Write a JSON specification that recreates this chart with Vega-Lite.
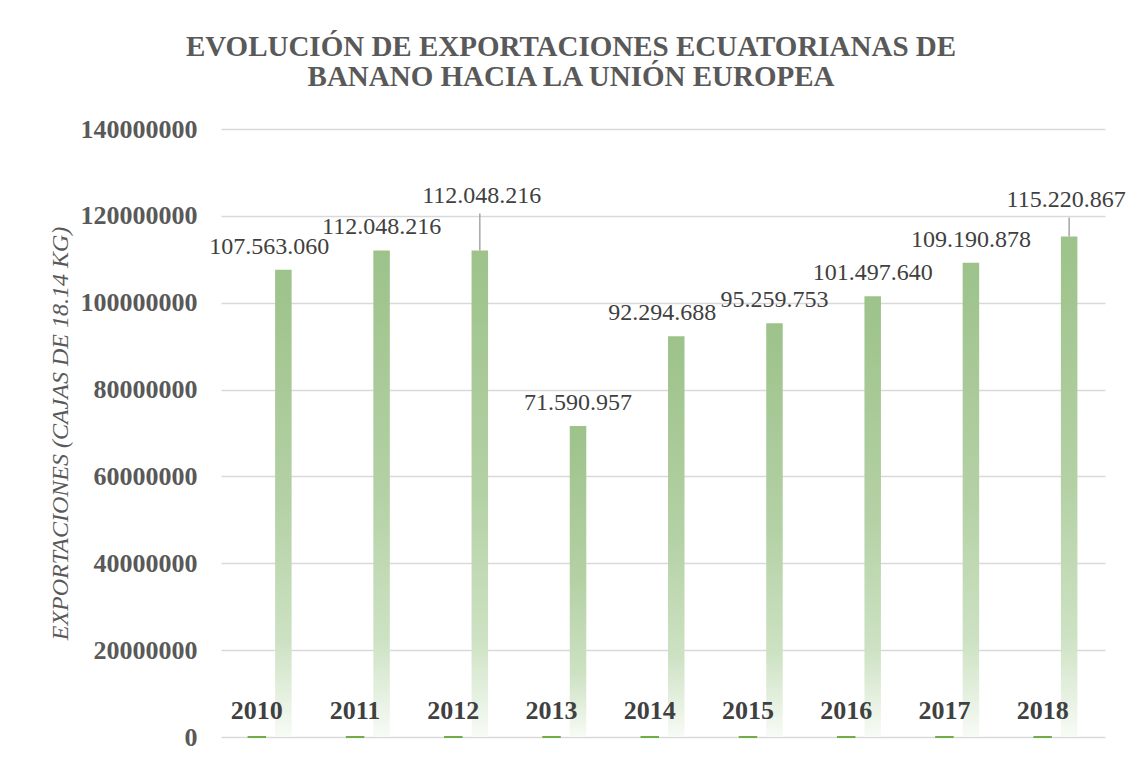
{
  "$schema": "https://vega.github.io/schema/vega-lite/v6.json",
  "autosize": {"type": "none"},
  "width": 884,
  "height": 608,
  "padding": {"left": 221, "top": 129, "right": 21, "bottom": 21},
  "background": "white",
  "title": {
    "text": ["EVOLUCIÓN DE EXPORTACIONES ECUATORIANAS DE", "BANANO HACIA LA UNIÓN EUROPEA"],
    "font": "Liberation Serif",
    "fontSize": 29,
    "fontWeight": "bold",
    "color": "#595959",
    "anchor": "middle",
    "frame": "group",
    "dx": -92,
    "lineHeight": 30,
    "offset": 24
  },
  "data": {
    "values": [
      {"anio": "2010", "serie": "Año", "valor": 2010},
      {"anio": "2010", "serie": "Exportaciones", "valor": 107563060},
      {"anio": "2011", "serie": "Año", "valor": 2011},
      {"anio": "2011", "serie": "Exportaciones", "valor": 112048216},
      {"anio": "2012", "serie": "Año", "valor": 2012},
      {"anio": "2012", "serie": "Exportaciones", "valor": 112048216},
      {"anio": "2013", "serie": "Año", "valor": 2013},
      {"anio": "2013", "serie": "Exportaciones", "valor": 71590957},
      {"anio": "2014", "serie": "Año", "valor": 2014},
      {"anio": "2014", "serie": "Exportaciones", "valor": 92294688},
      {"anio": "2015", "serie": "Año", "valor": 2015},
      {"anio": "2015", "serie": "Exportaciones", "valor": 95259753},
      {"anio": "2016", "serie": "Año", "valor": 2016},
      {"anio": "2016", "serie": "Exportaciones", "valor": 101497640},
      {"anio": "2017", "serie": "Año", "valor": 2017},
      {"anio": "2017", "serie": "Exportaciones", "valor": 109190878},
      {"anio": "2018", "serie": "Año", "valor": 2018},
      {"anio": "2018", "serie": "Exportaciones", "valor": 115220867}
    ]
  },
  "encoding": {
    "x": {"field": "anio", "type": "nominal", "axis": null, "sort": null,
      "scale": {"paddingInner": 0.562, "paddingOuter": 0.281}},
    "xOffset": {"field": "serie", "type": "nominal",
      "scale": {"domain": ["Año", "Exportaciones"], "paddingInner": 0.377, "paddingOuter": 0}},
    "y": {"field": "valor", "type": "quantitative",
      "scale": {"domain": [0, 140000000], "nice": false},
      "axis": {
        "values": [0, 20000000, 40000000, 60000000, 80000000, 100000000, 120000000, 140000000],
        "format": "d",
        "title": "EXPORTACIONES (CAJAS DE 18.14 KG)",
        "titleFont": "Liberation Serif",
        "titleFontSize": 24,
        "titleFontStyle": "italic",
        "titleFontWeight": "normal",
        "titleColor": "#595959",
        "titlePadding": 8,
        "labelFont": "Liberation Serif",
        "labelFontSize": 26,
        "labelFontWeight": "bold",
        "labelColor": "#595959",
        "labelPadding": 24,
        "domain": false,
        "ticks": false,
        "gridColor": "#d9d9d9",
        "gridWidth": 1.5
      }
    }
  },
  "layer": [
    {
      "transform": [{"filter": "datum.serie === 'Exportaciones'"}],
      "mark": {
        "type": "bar",
        "color": {
          "gradient": "linear", "x1": 0, "y1": 0, "x2": 0, "y2": 1,
          "stops": [
            {"offset": 0, "color": "#9dc28a"},
            {"offset": 0.5, "color": "#b4d1a5"},
            {"offset": 0.8, "color": "#cde2c3"},
            {"offset": 1, "color": "#f8fbf6"}
          ]
        }
      }
    },
    {
      "transform": [{"filter": "datum.serie === 'Año'"}],
      "mark": {"type": "bar", "color": "#70ad47", "stroke": "#70ad47", "strokeWidth": 2}
    },
    {
      "transform": [{"filter": "datum.serie === 'Año'"}],
      "mark": {"type": "text", "font": "Liberation Serif", "fontSize": 26, "fontWeight": "bold",
        "color": "#404040", "baseline": "alphabetic", "dy": -18},
      "encoding": {"text": {"field": "anio"}}
    },
    {
      "transform": [{"filter": {"field": "anio", "oneOf": ["2011", "2013", "2015", "2016", "2017"]}},
        {"filter": "datum.serie === 'Exportaciones'"}],
      "mark": {"type": "text", "font": "Liberation Serif", "fontSize": 24, "color": "#404040",
        "baseline": "alphabetic", "dy": -16},
      "encoding": {"text": {"field": "valor", "format": ",d", "formatType": "number"}}
    },
    {
      "transform": [{"filter": {"field": "anio", "oneOf": ["2010", "2014"]}},
        {"filter": "datum.serie === 'Exportaciones'"}],
      "mark": {"type": "text", "font": "Liberation Serif", "fontSize": 24, "color": "#404040",
        "baseline": "alphabetic", "dy": -16, "dx": -14},
      "encoding": {"text": {"field": "valor", "format": ",d", "formatType": "number"}}
    },
    {
      "transform": [{"filter": {"field": "anio", "oneOf": ["2012"]}},
        {"filter": "datum.serie === 'Exportaciones'"}],
      "mark": {"type": "text", "font": "Liberation Serif", "fontSize": 24, "color": "#404040",
        "baseline": "alphabetic", "dy": -47, "dx": 2},
      "encoding": {"text": {"field": "valor", "format": ",d", "formatType": "number"}}
    },
    {
      "transform": [{"filter": {"field": "anio", "oneOf": ["2018"]}},
        {"filter": "datum.serie === 'Exportaciones'"}],
      "mark": {"type": "text", "font": "Liberation Serif", "fontSize": 24, "color": "#404040",
        "baseline": "alphabetic", "dy": -30, "dx": -3},
      "encoding": {"text": {"field": "valor", "format": ",d", "formatType": "number"}}
    },
    {
      "transform": [{"filter": {"field": "anio", "oneOf": ["2012"]}},
        {"filter": "datum.serie === 'Exportaciones'"}],
      "mark": {"type": "rule", "color": "#a6a6a6", "strokeWidth": 1.5, "y2Offset": -37},
      "encoding": {"y2": {"field": "valor"}}
    },
    {
      "transform": [{"filter": {"field": "anio", "oneOf": ["2018"]}},
        {"filter": "datum.serie === 'Exportaciones'"}],
      "mark": {"type": "rule", "color": "#a6a6a6", "strokeWidth": 1.5, "y2Offset": -19},
      "encoding": {"y2": {"field": "valor"}}
    }
  ],
  "config": {
    "view": {"stroke": null},
    "locale": {"number": {"decimal": ",", "thousands": ".", "grouping": [3], "currency": ["", " €"]}}
  }
}
